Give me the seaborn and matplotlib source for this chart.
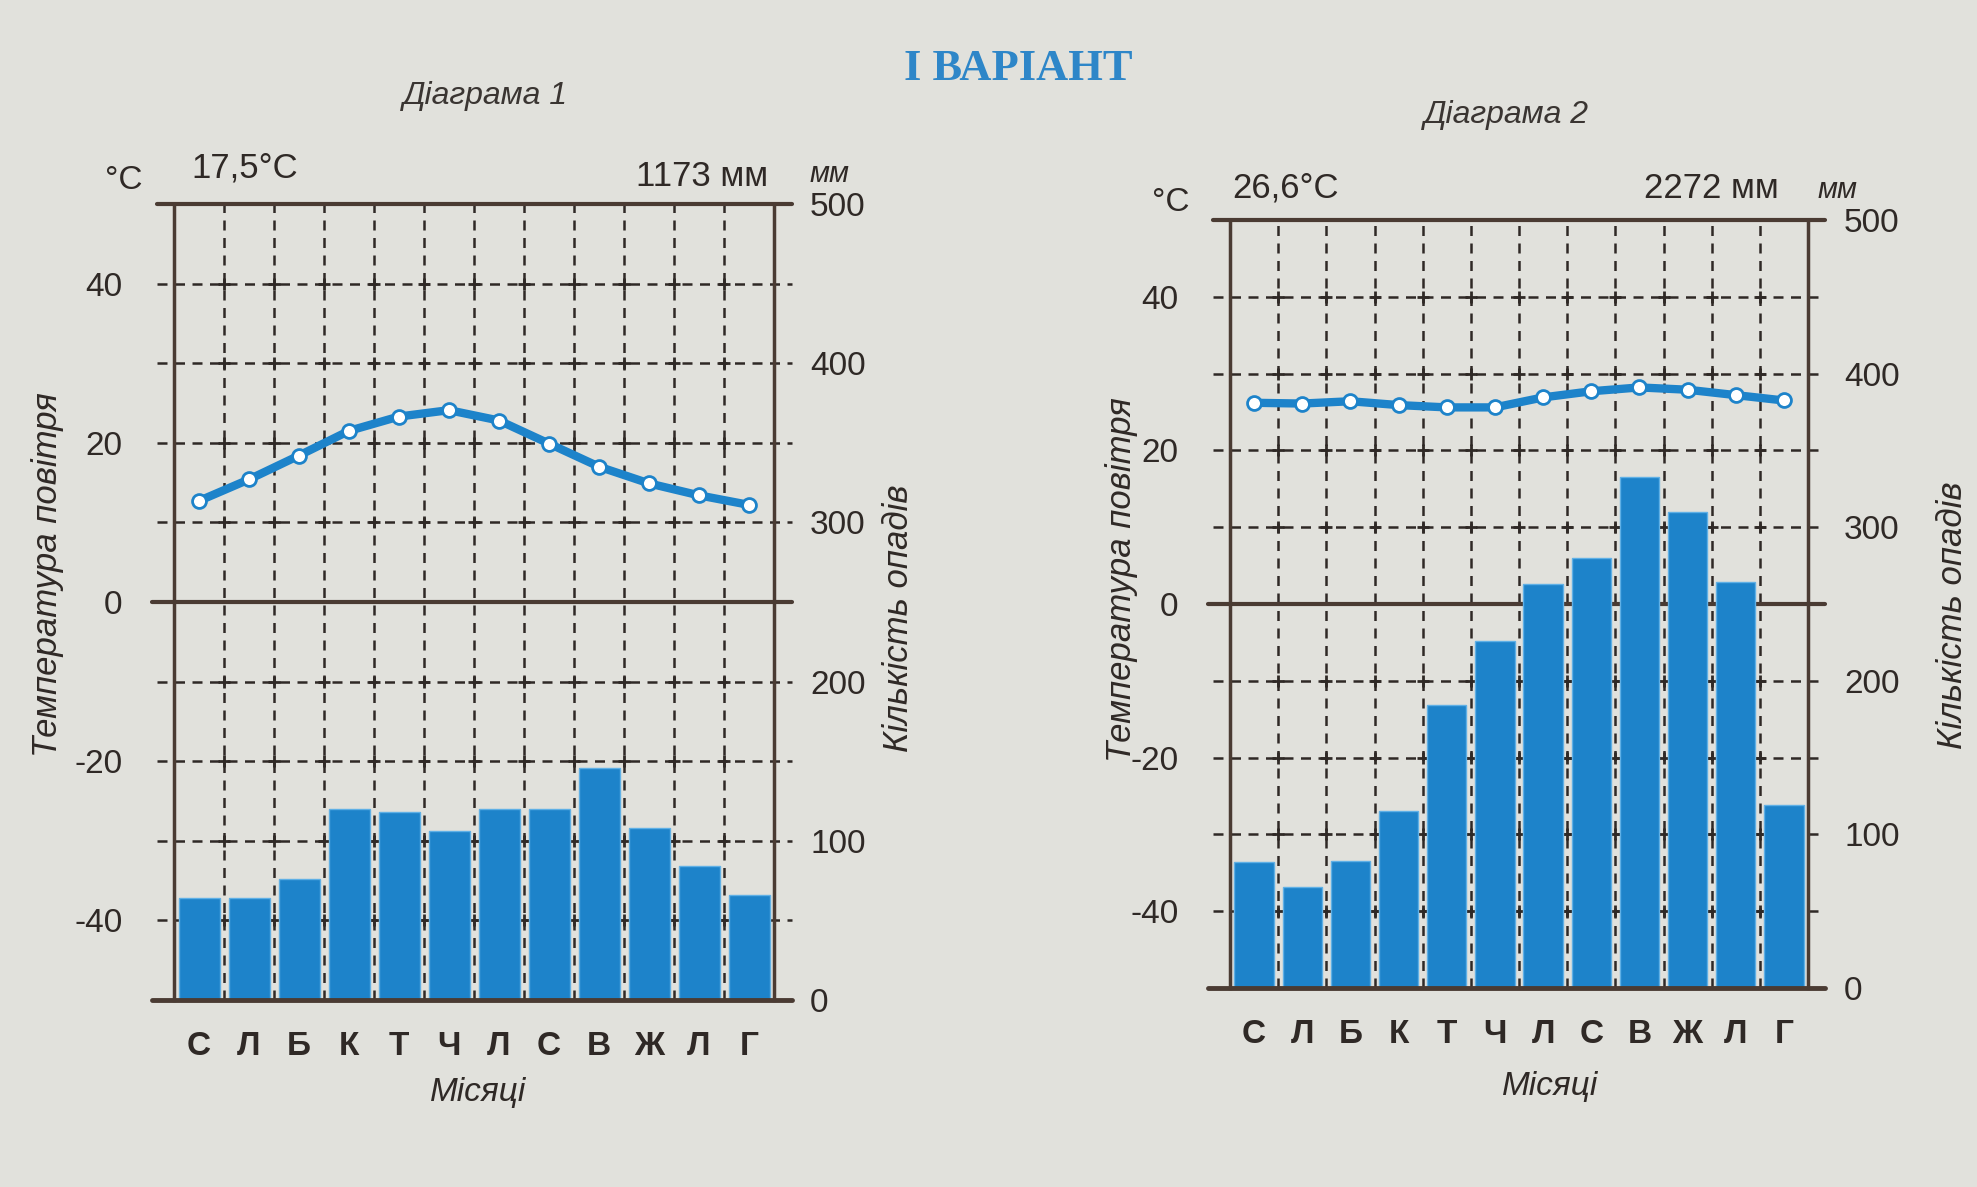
import matplotlib
matplotlib.use('Agg')
import matplotlib.pyplot as plt
import seaborn as sns

# ---- data ----
months = ['С', 'Л', 'Б', 'К', 'Т', 'Ч', 'Л', 'С', 'В', 'Ж', 'Л', 'Г']
month_idx = list(range(12))

temp_1 = [12.7, 15.4, 18.4, 21.5, 23.3, 24.1, 22.8, 19.9, 17.0, 14.9, 13.4, 12.2]
precip_1 = [64, 64, 76, 120, 118, 106, 120, 120, 146, 108, 84, 66]

temp_2 = [26.2, 26.1, 26.4, 25.9, 25.6, 25.6, 26.9, 27.7, 28.2, 27.9, 27.2, 26.5]
precip_2 = [82, 66, 83, 115, 184, 226, 263, 280, 333, 310, 264, 119]

titles = ['Діаграма 1', 'Діаграма 2']
mean_temp_labels = ['17,5°C', '26,6°C']
total_precip_labels = ['1173 мм', '2272 мм']
temp_ticks = [-40, -20, 0, 20, 40]
precip_ticks = [0, 100, 200, 300, 400, 500]

# ---- style ----
sns.set_theme(style='white')
plt.rcParams['font.family'] = ['Liberation Sans', 'DejaVu Sans']

W, H = 1977, 1187
BG = '#e1e1dc'
BLUE = '#1d83ca'
FRAME = '#4a3b33'
INK = '#2f2926'

fig = plt.figure(figsize=(W / 100, H / 100), dpi=100, facecolor=BG)


def fx(x):
    return x / W


def fy(y):
    return 1 - y / H


# pixel boxes (left, top, right, bottom) and text anchors for each diagram
boxes = [(174, 204, 774, 1000), (1230, 220, 1808, 988)]
text_pos = [
    dict(title=(485, 96), degc=(124, 180), mean=(191, 168), total=(768, 176),
         mm=(830, 174), tlabel=(48, 575), plabel=(899, 618), xlabel=(478, 1092)),
    dict(title=(1506, 115), degc=(1171, 203), mean=(1232, 188), total=(1779, 188),
         mm=(1838, 190), tlabel=(1121, 580), plabel=(1953, 615), xlabel=(1550, 1086)),
]


def draw_diagram(i, temps, precip):
    l, t, r, b = boxes[i]
    ax_t = fig.add_axes([fx(l), fy(b), (r - l) / W, (b - t) / H])
    ax_p = ax_t.twinx()
    ax_t.set_zorder(3)
    ax_p.set_zorder(2)
    ax_t.patch.set_visible(False)
    ax_p.patch.set_visible(False)

    # grid (behind bars), in precipitation units
    dash = (0, (4, 3))
    levels = [50, 100, 150, 200, 300, 350, 400, 450]
    for v in levels:
        ax_p.plot([-0.85, 11.85], [v, v], color=INK, lw=1.8, ls=dash,
                  clip_on=False, zorder=1)
    for xv in [k + 0.5 for k in range(11)]:
        ax_p.plot([xv, xv], [0, 500], color=INK, lw=1.8, ls=dash, zorder=1)
        ax_p.plot([xv] * len(levels), levels, ls='none',
                  marker='+', ms=9, mew=2, color=INK, zorder=1)
    ax_p.plot([-0.95, 11.85], [250, 250], color=FRAME, lw=3, clip_on=False, zorder=1.5)

    sns.barplot(x=month_idx, y=precip, ax=ax_p, color=BLUE, saturation=1,
                width=0.82, edgecolor='#5fb0e6', linewidth=1, zorder=3)

    # frame lines
    ax_p.plot([-0.95, 11.85], [0, 0], color=FRAME, lw=3.5, clip_on=False, zorder=4)
    ax_p.plot([-0.85, 11.85], [500, 500], color=FRAME, lw=3, clip_on=False, zorder=4)

    sns.lineplot(x=month_idx, y=temps, ax=ax_t, color=BLUE, lw=6, marker='o',
                 markersize=10, markerfacecolor='white', markeredgecolor=BLUE,
                 markeredgewidth=2, zorder=6)

    ax_t.set_xlim(-0.5, 11.5)
    ax_t.set_ylim(-50, 50)
    ax_p.set_ylim(0, 500)

    for ax in (ax_t, ax_p):
        for s in ax.spines.values():
            s.set_visible(False)
        ax.set_xlabel('')
        ax.set_ylabel('')
    ax_t.spines['left'].set_visible(True)
    ax_t.spines['left'].set_color(FRAME)
    ax_t.spines['left'].set_linewidth(2.5)
    ax_p.spines['right'].set_visible(True)
    ax_p.spines['right'].set_color(FRAME)
    ax_p.spines['right'].set_linewidth(2.5)

    ax_t.set_yticks(temp_ticks)
    ax_t.set_yticklabels([str(v) for v in temp_ticks])
    ax_t.tick_params(axis='y', length=0, pad=37, labelsize=24, labelcolor=INK)
    ax_p.set_yticks(precip_ticks)
    ax_p.tick_params(axis='y', length=0, pad=26, labelsize=24, labelcolor=INK)
    ax_t.set_xticks(month_idx)
    ax_t.set_xticklabels(months, fontweight='bold')
    ax_t.tick_params(axis='x', length=0, pad=22, labelsize=24, labelcolor=INK)

    p = text_pos[i]
    fig.text(fx(p['title'][0]), fy(p['title'][1]), titles[i], ha='center', va='center',
             fontsize=23, style='italic', color='#3a3532')
    fig.text(fx(p['degc'][0]), fy(p['degc'][1]), '°C', ha='center', va='center',
             fontsize=24, color=INK)
    fig.text(fx(p['mean'][0]), fy(p['mean'][1]), mean_temp_labels[i], ha='left',
             va='center', fontsize=25, color=INK)
    fig.text(fx(p['total'][0]), fy(p['total'][1]), total_precip_labels[i], ha='right',
             va='center', fontsize=25, color=INK)
    fig.text(fx(p['mm'][0]), fy(p['mm'][1]), 'мм', ha='center', va='center',
             fontsize=21, style='italic', color=INK)
    fig.text(fx(p['tlabel'][0]), fy(p['tlabel'][1]), 'Температура повітря', rotation=90,
             ha='center', va='center', fontsize=25, style='italic', color=INK)
    fig.text(fx(p['plabel'][0]), fy(p['plabel'][1]), 'Кількість опадів', rotation=90,
             ha='center', va='center', fontsize=25, style='italic', color=INK)
    fig.text(fx(p['xlabel'][0]), fy(p['xlabel'][1]), 'Місяці', ha='center', va='center',
             fontsize=24, style='italic', color=INK)


draw_diagram(0, temp_1, precip_1)
draw_diagram(1, temp_2, precip_2)

fig.text(fx(1018), fy(69), 'І ВАРІАНТ', ha='center', va='center', fontsize=32,
         fontweight='bold', color='#2e86c8', family=['Liberation Serif', 'DejaVu Serif'])

fig.savefig('out.png', dpi=100, facecolor=BG)
